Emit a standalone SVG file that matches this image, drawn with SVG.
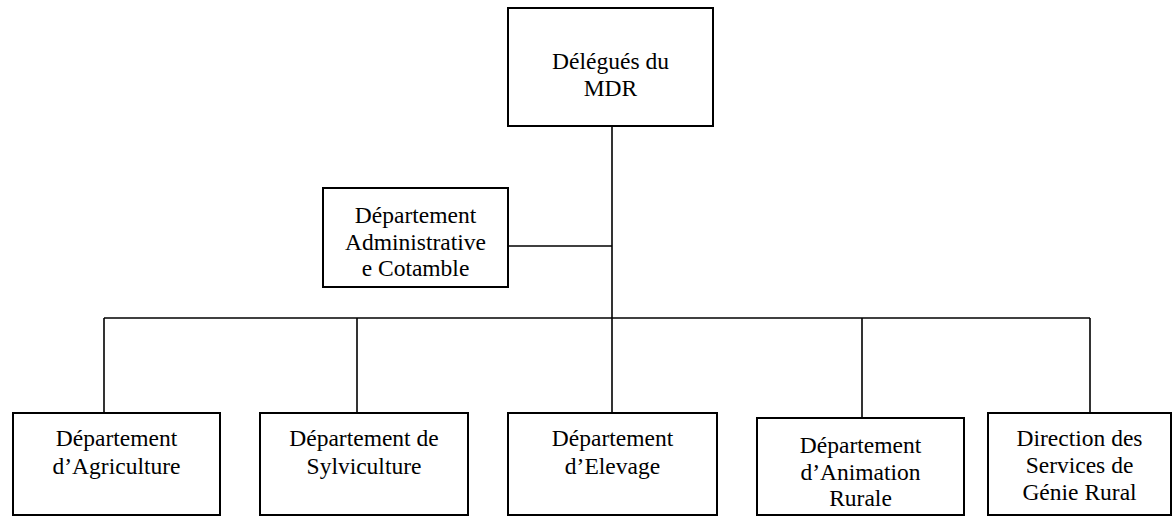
<svg xmlns="http://www.w3.org/2000/svg" width="1173" height="517" viewBox="0 0 1173 517">
<style>
.box{fill:#fff;stroke:#000;stroke-width:2}
.ln{stroke:#000;stroke-width:1.6;fill:none}
.t{font-family:'Liberation Serif','DejaVu Serif',serif;font-size:23.5px;fill:#000;text-anchor:middle}
</style>
<rect width="1173" height="517" fill="#fff"/>
<g id="connectors">
<line class="ln" x1="612" y1="126" x2="612" y2="318"/>
<line class="ln" x1="508" y1="246" x2="612" y2="246"/>
<line class="ln" x1="104" y1="318" x2="1090" y2="318"/>
<line class="ln" x1="104" y1="318" x2="104" y2="413"/>
<line class="ln" x1="357" y1="318" x2="357" y2="413"/>
<line class="ln" x1="612" y1="318" x2="612" y2="413"/>
<line class="ln" x1="862" y1="318" x2="862" y2="418"/>
<line class="ln" x1="1090" y1="318" x2="1090" y2="413"/>
</g>
<g class="t" font-family="Liberation Serif, DejaVu Serif, serif" font-size="23.5" text-anchor="middle">
<g id="mdr">
<rect class="box" x="508" y="8" width="205" height="118"/>
<text x="610.5" y="69">Délégués du</text>
<text x="610.5" y="96">MDR</text>
</g>
<g id="admin">
<rect class="box" x="323" y="188" width="185" height="99"/>
<text x="415.5" y="223">Département</text>
<text x="415.5" y="249.5">Administrative</text>
<text x="415.5" y="276">e Cotamble</text>
</g>
<g id="agriculture">
<rect class="box" x="13" y="413" width="207" height="102"/>
<text x="116.5" y="445.5">Département</text>
<text x="116.5" y="473.5">d’Agriculture</text>
</g>
<g id="sylviculture">
<rect class="box" x="260" y="413" width="208" height="102"/>
<text x="364" y="445.5">Département de</text>
<text x="364" y="473.5">Sylviculture</text>
</g>
<g id="elevage">
<rect class="box" x="508" y="413" width="209" height="102"/>
<text x="612.5" y="445.5">Département</text>
<text x="612.5" y="473.5">d’Elevage</text>
</g>
<g id="animation">
<rect class="box" x="757" y="418" width="207" height="97"/>
<text x="860.5" y="452.5">Département</text>
<text x="860.5" y="479.5">d’Animation</text>
<text x="860.5" y="506">Rurale</text>
</g>
<g id="genie">
<rect class="box" x="988" y="413" width="183" height="102"/>
<text x="1079.5" y="446">Direction des</text>
<text x="1079.5" y="473">Services de</text>
<text x="1079.5" y="500">Génie Rural</text>
</g>
</g>
</svg>
